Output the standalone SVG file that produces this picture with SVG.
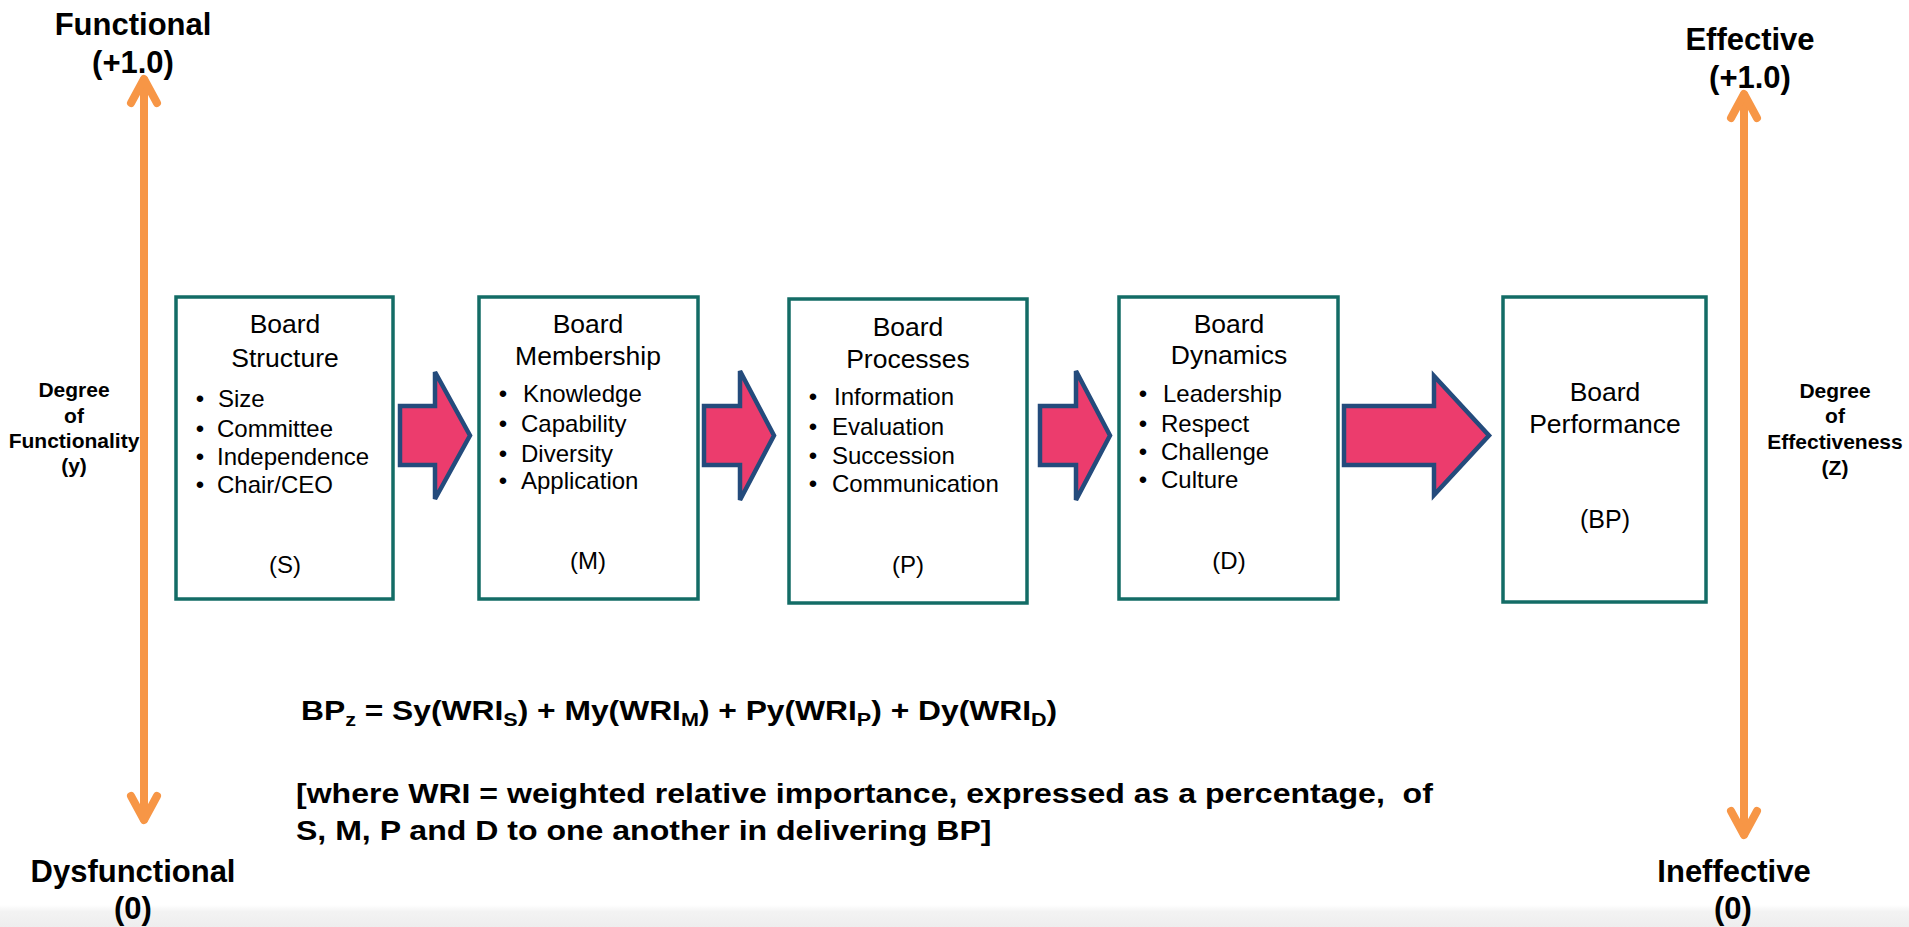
<svg xmlns="http://www.w3.org/2000/svg" width="1909" height="927" viewBox="0 0 1909 927">
<defs>
<linearGradient id="band" x1="0" y1="0" x2="0" y2="1">
<stop offset="0" stop-color="#ffffff"/>
<stop offset="0.3" stop-color="#f3f3f3"/>
<stop offset="1" stop-color="#eeeeee"/>
</linearGradient>
</defs>
<style>
.box{fill:#ffffff;stroke:#136c66;stroke-width:3.5}
.arr{fill:#ec3c6d;stroke:#244b7c;stroke-width:4.5;stroke-linejoin:miter}
.axis{fill:none;stroke:#f79646;stroke-width:8;stroke-linecap:round;stroke-linejoin:round}
.h{font-family:"Liberation Sans",Arial,sans-serif;font-size:26.5px;fill:#000;text-anchor:middle}
.b{font-family:"Liberation Sans",Arial,sans-serif;font-size:24px;fill:#000}
.bm{font-family:"Liberation Sans",Arial,sans-serif;font-size:24px;fill:#000;text-anchor:middle}
.big{font-family:"Liberation Sans",Arial,sans-serif;font-size:31px;font-weight:bold;fill:#000;text-anchor:middle}
.sm{font-family:"Liberation Sans",Arial,sans-serif;font-size:21px;font-weight:bold;fill:#000;text-anchor:middle}
.f{font-family:"Liberation Sans",Arial,sans-serif;font-size:28px;font-weight:bold;fill:#000}
.sub{font-size:19px}
</style>
<rect x="0" y="905" width="1909" height="22" fill="url(#band)"/>

<g id="connectors">
<polygon class="arr" points="400,406 435,406 435,372 470,435.5 435,499 435,465 400,465"/>
<polygon class="arr" points="704,406 740,406 740,371 774,435.5 740,500 740,465 704,465"/>
<polygon class="arr" points="1040,406 1076,406 1076,371 1110,435.5 1076,500 1076,465 1040,465"/>
<polygon class="arr" points="1344,406 1434,406 1434,376 1489,435.5 1434,495 1434,465 1344,465"/>
</g>

<g id="axis-functionality">
<line class="axis" x1="144" y1="80" x2="144" y2="819"/>
<polyline class="axis" points="131,103 144,79 157,103"/>
<polyline class="axis" points="131,796 144,820 157,796"/>
<text class="big" x="133" y="35">Functional</text>
<text class="big" x="133" y="73">(+1.0)</text>
<text class="big" x="133" y="882">Dysfunctional</text>
<text class="big" x="133" y="919">(0)</text>
<text class="sm" x="74" y="397">Degree</text>
<text class="sm" x="74" y="423">of</text>
<text class="sm" x="74" y="448">Functionality</text>
<text class="sm" x="74" y="473">(y)</text>
</g>

<g id="axis-effectiveness">
<line class="axis" x1="1744" y1="95" x2="1744" y2="834"/>
<polyline class="axis" points="1731,118 1744,94 1757,118"/>
<polyline class="axis" points="1731,811 1744,835 1757,811"/>
<text class="big" x="1750" y="50">Effective</text>
<text class="big" x="1750" y="88">(+1.0)</text>
<text class="big" x="1734" y="882">Ineffective</text>
<text class="big" x="1733" y="919">(0)</text>
<text class="sm" x="1835" y="398">Degree</text>
<text class="sm" x="1835" y="423">of</text>
<text class="sm" x="1835" y="449">Effectiveness</text>
<text class="sm" x="1835" y="475">(Z)</text>
</g>

<g id="node-S">
<rect class="box" x="176" y="297" width="217" height="302"/>
<text class="h" x="285" y="333">Board</text>
<text class="h" x="285" y="367">Structure</text>
<text class="bm" x="200" y="407">•</text><text class="b" x="218" y="407">Size</text>
<text class="bm" x="200" y="437">•</text><text class="b" x="217" y="437">Committee</text>
<text class="bm" x="200" y="465">•</text><text class="b" x="217" y="465">Independence</text>
<text class="bm" x="200" y="493">•</text><text class="b" x="217" y="493">Chair/CEO</text>
<text class="bm" x="285" y="573">(S)</text>
</g>

<g id="node-M">
<rect class="box" x="479" y="297" width="219" height="302"/>
<text class="h" x="588" y="333">Board</text>
<text class="h" x="588" y="365">Membership</text>
<text class="bm" x="503" y="402">•</text><text class="b" x="523" y="402">Knowledge</text>
<text class="bm" x="503" y="432">•</text><text class="b" x="521" y="432">Capability</text>
<text class="bm" x="503" y="462">•</text><text class="b" x="521" y="462">Diversity</text>
<text class="bm" x="503" y="489">•</text><text class="b" x="521" y="489">Application</text>
<text class="bm" x="588" y="569">(M)</text>
</g>

<g id="node-P">
<rect class="box" x="789" y="299" width="238" height="304"/>
<text class="h" x="908" y="336">Board</text>
<text class="h" x="908" y="368">Processes</text>
<text class="bm" x="813" y="405">•</text><text class="b" x="834" y="405">Information</text>
<text class="bm" x="813" y="435">•</text><text class="b" x="832" y="435">Evaluation</text>
<text class="bm" x="813" y="464">•</text><text class="b" x="832" y="464">Succession</text>
<text class="bm" x="813" y="492">•</text><text class="b" x="832" y="492">Communication</text>
<text class="bm" x="908" y="573">(P)</text>
</g>

<g id="node-D">
<rect class="box" x="1119" y="297" width="219" height="302"/>
<text class="h" x="1229" y="333">Board</text>
<text class="h" x="1229" y="364">Dynamics</text>
<text class="bm" x="1143" y="402">•</text><text class="b" x="1163" y="402">Leadership</text>
<text class="bm" x="1143" y="432">•</text><text class="b" x="1161" y="432">Respect</text>
<text class="bm" x="1143" y="460">•</text><text class="b" x="1161" y="460">Challenge</text>
<text class="bm" x="1143" y="488">•</text><text class="b" x="1161" y="488">Culture</text>
<text class="bm" x="1229" y="569">(D)</text>
</g>

<g id="node-BP">
<rect class="box" x="1503" y="297" width="203" height="305"/>
<text class="h" x="1605" y="401">Board</text>
<text class="h" x="1605" y="433">Performance</text>
<text class="h" x="1605" y="528" style="font-size:25px">(BP)</text>
</g>

<g id="formula">
<text class="f" transform="translate(301,720) scale(1.135,1)" x="0" y="0">BP<tspan class="sub" dy="6">z</tspan><tspan dy="-6"> = Sy(WRI</tspan><tspan class="sub" dy="6">S</tspan><tspan dy="-6">) + My(WRI</tspan><tspan class="sub" dy="6">M</tspan><tspan dy="-6">) + Py(WRI</tspan><tspan class="sub" dy="6">P</tspan><tspan dy="-6">) + Dy(WRI</tspan><tspan class="sub" dy="6">D</tspan><tspan dy="-6">)</tspan></text>
<text class="f" transform="translate(296,803) scale(1.145,1)" x="0" y="0" xml:space="preserve">[where WRI = weighted relative importance, expressed as a percentage,  of</text>
<text class="f" transform="translate(296,840) scale(1.145,1)" x="0" y="0">S, M, P and D to one another in delivering BP]</text>
</g>
</svg>
